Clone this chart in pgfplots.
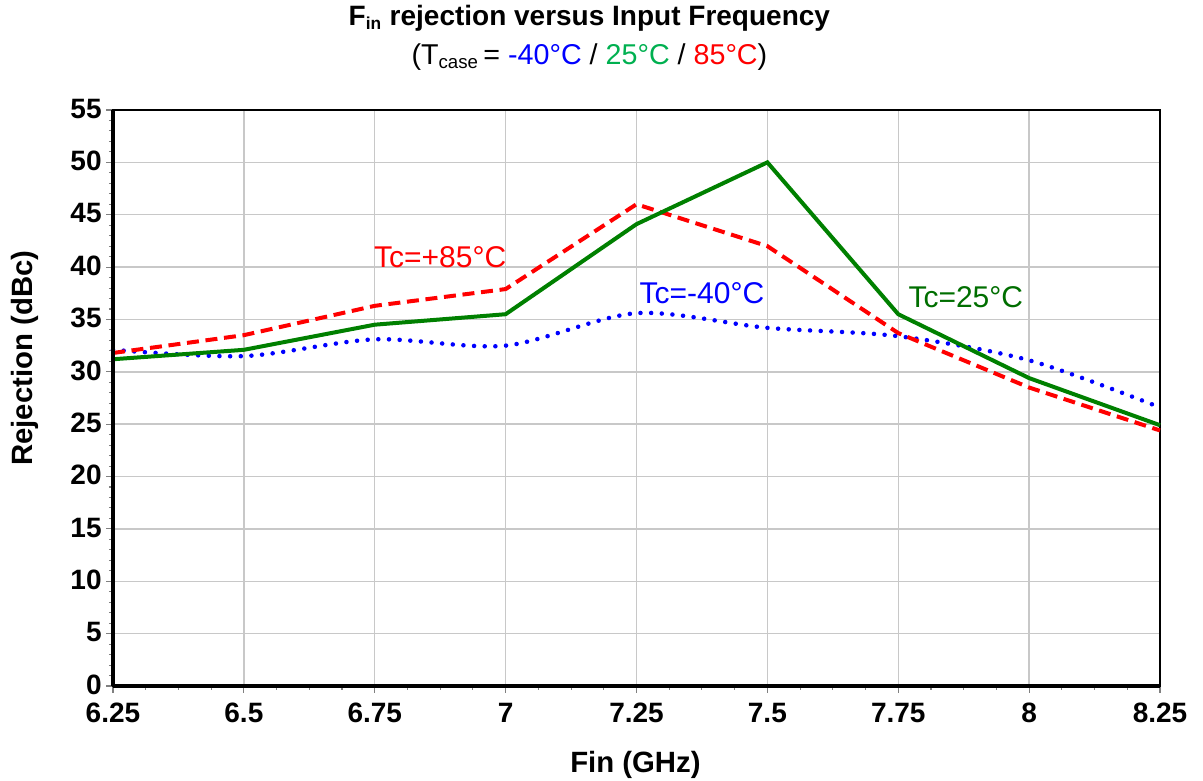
\documentclass[border=0pt]{standalone}
\usepackage{pgfplots}
\pgfplotsset{compat=1.18}
\usepackage{fontspec}
\setmainfont{Liberation Sans}
\definecolor{lgreen}{RGB}{0,128,0}
\definecolor{tgreen}{RGB}{0,176,80}
\definecolor{agreen}{RGB}{0,110,0}
\definecolor{gridgray}{RGB}{200,200,200}
\begin{document}
\begin{tikzpicture}
\begin{axis}[
  scale only axis,
  width=785.25pt, height=432pt,
  xmin=6.25, xmax=8.25, ymin=0, ymax=55,
  xtick={6.25,6.5,6.75,7,7.25,7.5,7.75,8,8.25},
  xticklabels={6.25,6.5,6.75,7,7.25,7.5,7.75,8,8.25},
  ytick={0,5,10,15,20,25,30,35,40,45,50,55},
  minor x tick num=3, minor y tick num=4,
  xtick pos=left, ytick pos=left,
  tick align=outside,
  major tick length=5pt, minor tick length=3pt,
  tick style={gray, line width=0.8pt},
  grid=major,
  major grid style={gridgray, line width=1.1pt},
  axis line style={black, line width=1pt},
  ticklabel style={font=\fontsize{21}{21}\selectfont\bfseries},
  xticklabel style={yshift=-4.5pt},
  yticklabel style={yshift=1pt},
  /pgf/number format/assume math mode=true,
  xlabel={Fin (GHz)}, ylabel={Rejection (dBc)},
  label style={font=\fontsize{22}{22}\selectfont\bfseries},
  xlabel style={at={(axis description cs:0.499,-0.137)}, anchor=center},
  ylabel style={at={(axis description cs:-0.084,0.569)}, anchor=center},
  clip=false,
]
% -40C
\addplot[blue, line width=3.4pt, line cap=round, dash pattern=on 0pt off 8pt, smooth, tension=0.5] coordinates {
(6.25,32.1) (6.5,31.5) (6.75,33.1) (7.0,32.5) (7.25,35.6) (7.5,34.2) (7.75,33.4) (8.0,31.1) (8.25,26.6)};
% +85C
\addplot[red, line width=3pt, dash pattern=on 9pt off 5pt] coordinates {
(6.25,31.8) (6.5,33.5) (6.75,36.3) (7.0,37.9) (7.25,46.0) (7.5,42.0) (7.75,33.7) (8.0,28.5) (8.25,24.4)};
% 25C
\addplot[lgreen, line width=3pt] coordinates {
(6.25,31.2) (6.5,32.1) (6.75,34.5) (7.0,35.5) (7.25,44.1) (7.5,50.0) (7.75,35.5) (8.0,29.4) (8.25,24.9)};
\draw[black, line width=2.3pt] (rel axis cs:0,0) -- (rel axis cs:0,1);
\draw[black, line width=2.3pt] (rel axis cs:0,0) -- (rel axis cs:1,0);
\node[red, font=\fontsize{22.5}{22.5}\selectfont] at (axis cs:6.875,40.9) {Tc=+85°C};
\node[blue, font=\fontsize{22.5}{22.5}\selectfont] at (axis cs:7.375,37.5) {Tc=-40°C};
\node[agreen, font=\fontsize{22.5}{22.5}\selectfont] at (axis cs:7.879,37.1) {Tc=25°C};
\node[font=\fontsize{21}{21}\selectfont\bfseries] at ([yshift=69pt]axis description cs:0.455,1) {F\textsubscript{\normalfont\bfseries\fontsize{13}{13}\selectfont in} rejection versus Input Frequency};
\node[font=\fontsize{21.5}{21.5}\selectfont] at ([yshift=40pt]axis description cs:0.455,1) {(T\textsubscript{\fontsize{14}{14}\selectfont case}\,= \textcolor{blue}{-40°C} / \textcolor{tgreen}{25°C} / \textcolor{red}{85°C})};
\coordinate (bl) at (rel axis cs:0,0);
\coordinate (tr) at (rel axis cs:1,1);
\end{axis}
\pgfresetboundingbox
\path ([shift={(-84.75pt,-71.25pt)}]bl) rectangle ([shift={(32.25pt,82.5pt)}]tr);
\end{tikzpicture}
\end{document}
